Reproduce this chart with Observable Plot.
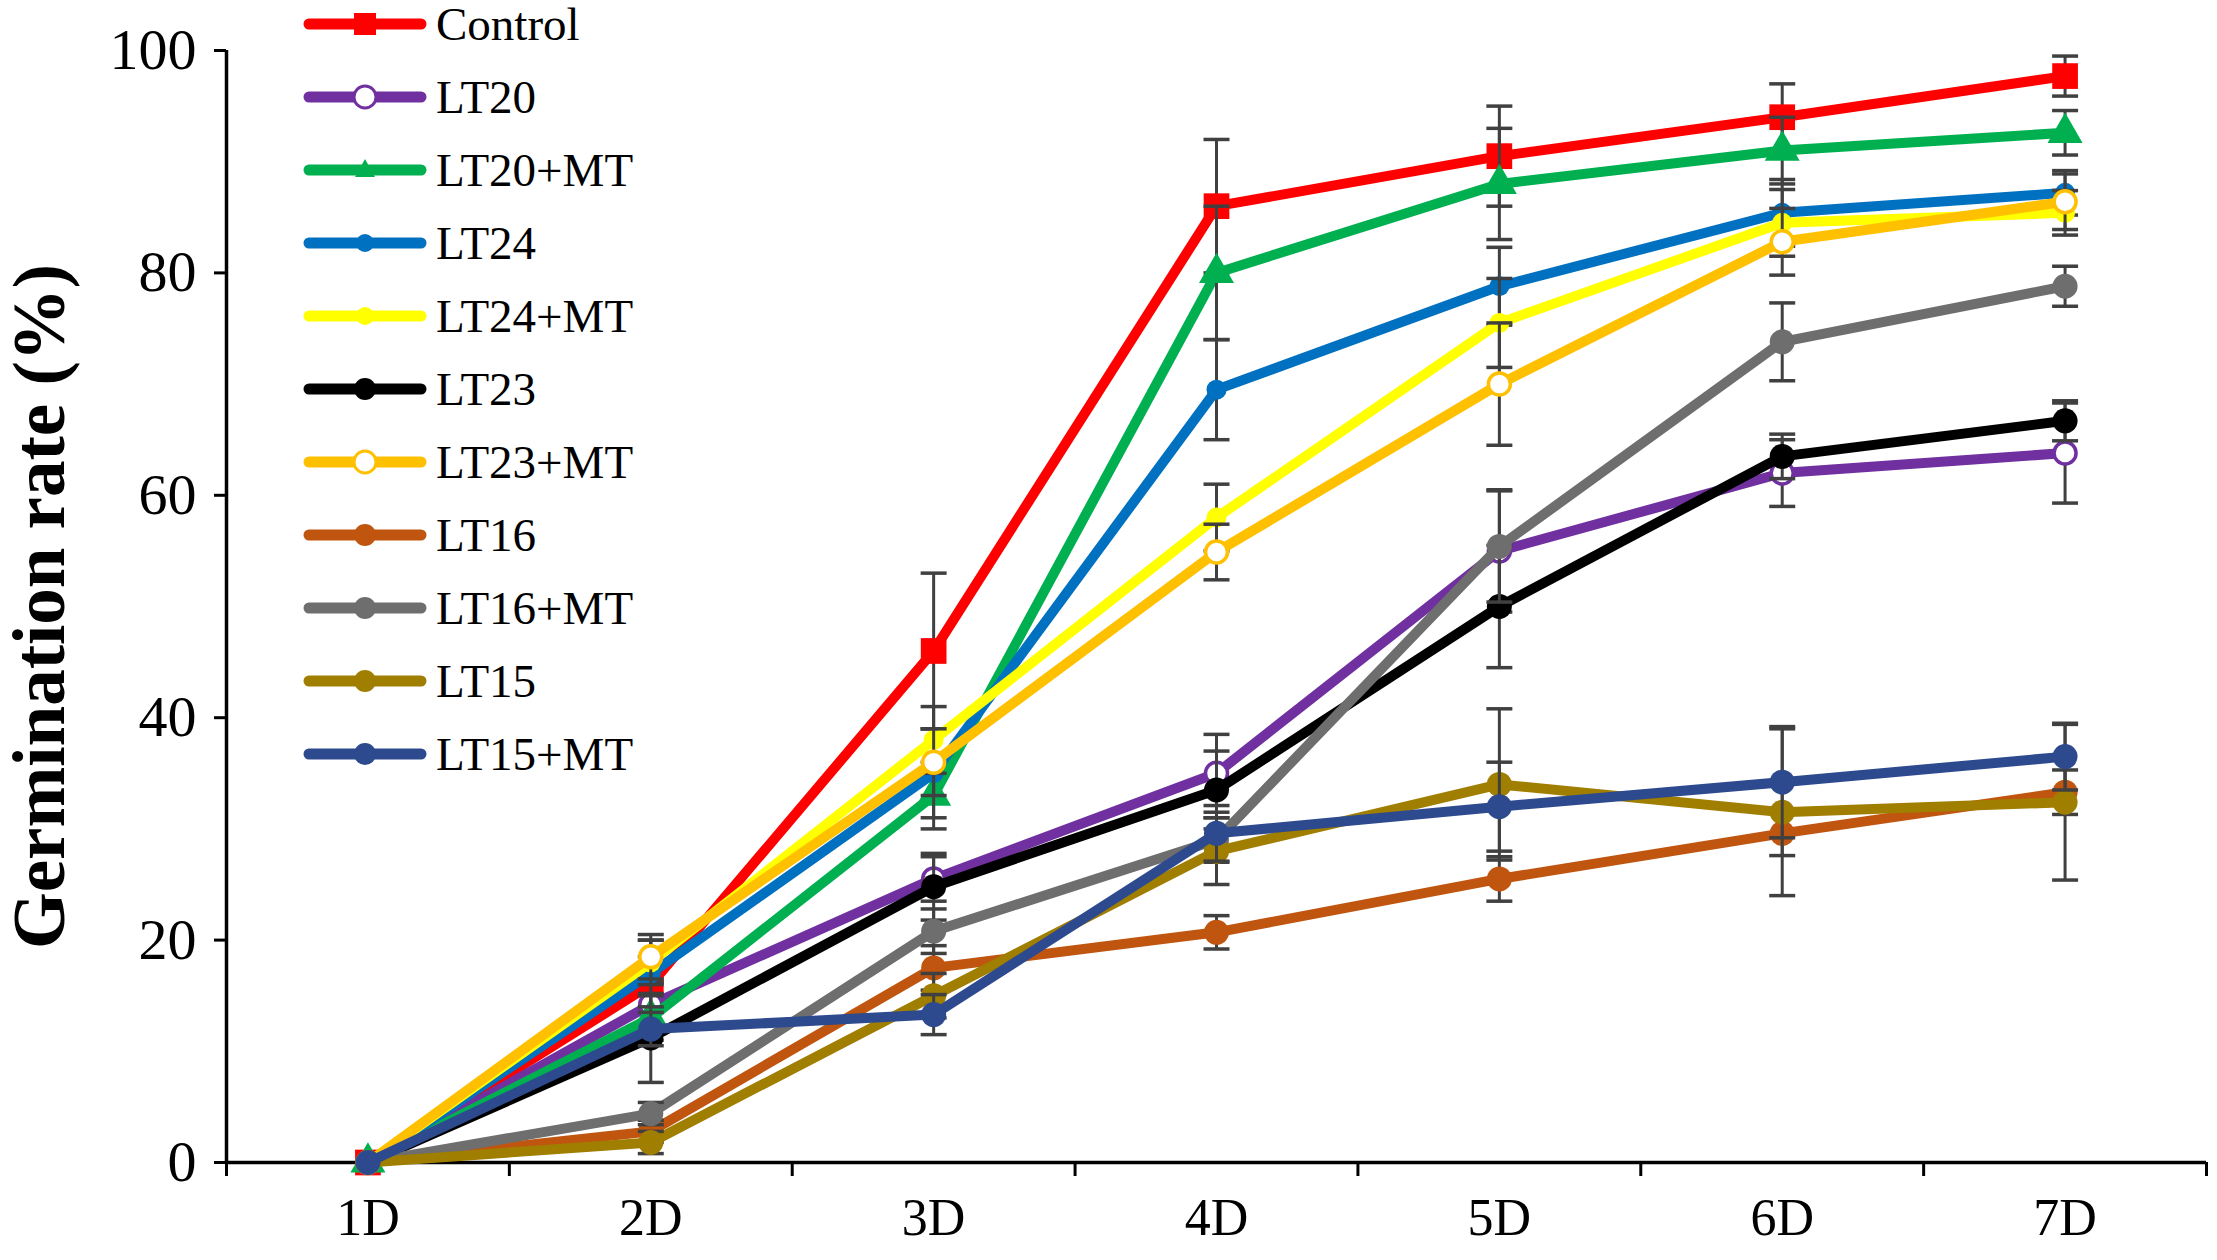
<!DOCTYPE html>
<html>
<head>
<meta charset="utf-8">
<script src="https://cdn.jsdelivr.net/npm/d3@7"></script>
<script src="https://cdn.jsdelivr.net/npm/@observablehq/plot@0.6"></script>
<style>
  body { margin: 0; background: #fff; }
  #wrap { position: relative; width: 2217px; height: 1260px; font-family: "Liberation Serif", "Times New Roman", serif; }
  #legend { position: absolute; left: 0; top: 0; }
  .row { position: absolute; left: 300px; height: 60px; display: flex; align-items: center; }
  .row span { font-family: "Liberation Serif", "Times New Roman", serif; font-size: 47px; color: #000; margin-left: 6px; line-height: 1; }
</style>
</head>
<body>
<div id="wrap"><div id="legend"></div></div>
<script>
const days = ["1D", "2D", "3D", "4D", "5D", "6D", "7D"];
const seriesNames = ["Control", "LT20", "LT20+MT", "LT24", "LT24+MT", "LT23", "LT23+MT", "LT16", "LT16+MT", "LT15", "LT15+MT"];
const seriesColors = ["#ff0000", "#7030a0", "#00b050", "#0070c0", "#ffff00", "#000000", "#ffc000", "#c0550f", "#6e6e6e", "#a07e00", "#2e4a8e"];
const seriesSymbols = ["square", "open", "triangle", "small", "small", "circle", "open", "circle", "circle", "circle", "circle"];

const control = [0, 16, 46, 86, 90.5, 94, 97.7];
const lt20    = [0, 14.2, 25.5, 35, 55, 62, 63.8];
const lt20mt  = [0, 13, 33, 80, 88, 91, 92.6];
const lt24    = [0, 17, 35, 69.5, 78.8, 85.4, 87.2];
const lt24mt  = [0, 18, 38, 58, 75.5, 84.5, 85.4];
const lt23    = [0, 11.2, 24.8, 33.5, 50, 63.5, 66.7];
const lt23mt  = [0, 18.5, 36, 54.9, 70, 82.8, 86.4];
const lt16    = [0, 2.8, 17.5, 20.7, 25.5, 29.6, 33.3];
const lt16mt  = [0, 4.4, 20.8, 29, 55.4, 73.8, 78.8];
const lt15    = [0, 1.8, 15, 28, 34, 31.5, 32.4];
const lt15mt  = [0, 12, 13.3, 29.6, 32, 34.2, 36.5];

const errControl = [0, 2.5, 7, 6, 4.5, 3, 1.8];
const errLt20    = [0, 2, 2, 3.5, 5.5, 3, 4.5];
const errLt20mt  = [0, 2, 3, 6, 5, 3, 2];
const errLt24    = [0, 3, 4, 4.5, 3.5, 3, 2];
const errLt24mt  = [0, 2, 3, 3, 4, 3, 2];
const errLt23    = [0, 4, 3, 3.5, 5.5, 2, 1.8];
const errLt23mt  = [0, 2, 3, 2.5, 5.5, 3, 2.5];
const errLt16    = [0, 1, 2, 1.5, 2, 2, 2];
const errLt16mt  = [0, 1, 2, 2, 5, 3.5, 1.8];
const errLt15    = [0, 1, 2, 3, 6.8, 7.5, 7];
const errLt15mt  = [0, 1.5, 1.8, 2.5, 4, 5, 3];

const yTicks = [0, 20, 40, 60, 80, 100];

const allValues = [control, lt20, lt20mt, lt24, lt24mt, lt23, lt23mt, lt16, lt16mt, lt15, lt15mt];
const allErrors = [errControl, errLt20, errLt20mt, errLt24, errLt24mt, errLt23, errLt23mt, errLt16, errLt16mt, errLt15, errLt15mt];

const data = [];
seriesNames.forEach((name, s) => {
  days.forEach((d, i) => {
    data.push({
      series: name, order: s, day: i + 1, value: allValues[s][i], err: allErrors[s][i],
      color: seriesColors[s], sym: seriesSymbols[s]
    });
  });
});

const capSymbol = {
  draw(context, size) {
    const r = Math.sqrt(size / Math.PI);
    context.moveTo(-r, 0);
    context.lineTo(r, 0);
  }
};

function markerMark(rows, sym) {
  if (sym === "square") return Plot.dot(rows, { x: "day", y: "value", symbol: "square", r: 14.5, fill: "color", stroke: "none" });
  if (sym === "triangle") return Plot.dot(rows, { x: "day", y: "value", symbol: "triangle", r: 13, fill: "color", stroke: "none" });
  if (sym === "small") return Plot.dot(rows, { x: "day", y: "value", r: 10, fill: "color", stroke: "none" });
  if (sym === "open") return Plot.dot(rows, { x: "day", y: "value", r: 11, fill: "#fff", stroke: "color", strokeWidth: 3.5 });
  return Plot.dot(rows, { x: "day", y: "value", r: 12.5, fill: "color", stroke: "none" });
}

const seriesMarks = seriesNames.flatMap((name, s) => {
  const rows = data.filter(d => d.series === name);
  const e = rows.filter(d => d.err > 0);
  return [
    Plot.line(rows, { x: "day", y: "value", stroke: "color", strokeWidth: 10, strokeLinejoin: "round", strokeLinecap: "round" }),
    Plot.ruleX(e, { x: "day", y1: d => d.value - d.err, y2: d => d.value + d.err, stroke: "#404040", strokeWidth: 3 }),
    Plot.dot(e, { x: "day", y: d => d.value + d.err, symbol: capSymbol, r: 13, stroke: "#404040", strokeWidth: 3.5, fill: "none" }),
    Plot.dot(e, { x: "day", y: d => d.value - d.err, symbol: capSymbol, r: 13, stroke: "#404040", strokeWidth: 3.5, fill: "none" }),
    markerMark(rows, seriesSymbols[s])
  ];
});

const font = "Liberation Serif, Times New Roman, serif";

const chart = Plot.plot({
  width: 2217,
  height: 1260,
  marginLeft: 226,
  marginRight: 11,
  marginTop: 50,
  marginBottom: 98,
  style: { fontFamily: font, background: "#fff", color: "#000" },
  x: { domain: [0.5, days.length + 0.5], axis: null },
  y: { domain: [0, 100], axis: null },
  color: { type: "identity" },
  marks: [
    Plot.axisY({ ticks: yTicks, tickSize: 12, tickPadding: 18, fontSize: 58, strokeWidth: 3, label: null, stroke: "#000" }),
    Plot.axisX({ ticks: d3.range(0.5, days.length + 1, 1), tickSize: 14, tickFormat: () => "", strokeWidth: 3, label: null, stroke: "#000" }),
    Plot.axisX({ ticks: d3.range(1, days.length + 1), tickSize: 0, tickPadding: 36, tickFormat: d => days[d - 1], fontSize: 52, label: null }),
    Plot.ruleX([0.5], { stroke: "#000", strokeWidth: 3.5 }),
    Plot.ruleY([0], { stroke: "#000", strokeWidth: 3.5 }),
    Plot.text(["Germination rate (%)"], { frameAnchor: "left", rotate: -90, dx: -186, textAnchor: "middle", fontSize: 73, fontWeight: "bold", fill: "#000" }),
    ...seriesMarks
  ]
});

const wrap = document.getElementById("wrap");
wrap.insertBefore(chart, wrap.firstChild);

// Legend (HTML overlay)
const legend = document.getElementById("legend");
const ns = "http://www.w3.org/2000/svg";
seriesNames.forEach((name, s) => {
  const row = document.createElement("div");
  row.className = "row";
  row.style.top = (24 + s * 73 - 30) + "px";
  const svg = document.createElementNS(ns, "svg");
  svg.setAttribute("width", 130);
  svg.setAttribute("height", 60);
  const line = document.createElementNS(ns, "line");
  line.setAttribute("x1", 9); line.setAttribute("x2", 121);
  line.setAttribute("y1", 30); line.setAttribute("y2", 30);
  line.setAttribute("stroke", seriesColors[s]);
  line.setAttribute("stroke-width", 11);
  line.setAttribute("stroke-linecap", "round");
  svg.appendChild(line);
  const sym = seriesSymbols[s];
  let m;
  if (sym === "square") {
    m = document.createElementNS(ns, "rect");
    m.setAttribute("x", 54); m.setAttribute("y", 19); m.setAttribute("width", 22); m.setAttribute("height", 22);
    m.setAttribute("fill", seriesColors[s]);
  } else if (sym === "triangle") {
    m = document.createElementNS(ns, "path");
    m.setAttribute("d", "M65,19 L75,37 L55,37 Z");
    m.setAttribute("fill", seriesColors[s]);
  } else {
    m = document.createElementNS(ns, "circle");
    m.setAttribute("cx", 65); m.setAttribute("cy", 30);
    m.setAttribute("r", sym === "small" ? 9 : 11);
    if (sym === "open") {
      m.setAttribute("fill", "#fff");
      m.setAttribute("stroke", seriesColors[s]);
      m.setAttribute("stroke-width", 3);
    } else {
      m.setAttribute("fill", seriesColors[s]);
    }
  }
  svg.appendChild(m);
  row.appendChild(svg);
  const label = document.createElement("span");
  label.textContent = name;
  row.appendChild(label);
  legend.appendChild(row);
});
</script>
</body>
</html>
